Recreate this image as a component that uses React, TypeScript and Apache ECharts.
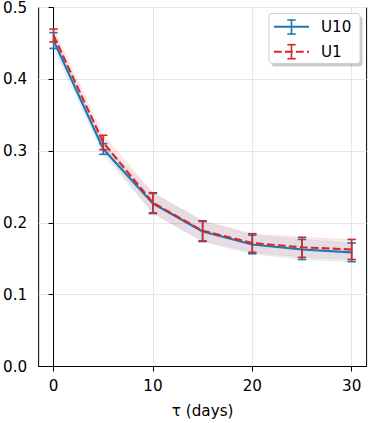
import React, { useEffect, useRef } from "react";
import * as echarts from "echarts";

const tau = [0, 5, 10, 15, 20, 25, 30];
const u10Mean = [0.454, 0.303, 0.227, 0.188, 0.17, 0.163, 0.159];
const u10Err = [0.011, 0.0075, 0.014, 0.014, 0.013, 0.014, 0.013];
const u1Mean = [0.461, 0.312, 0.228, 0.189, 0.172, 0.166, 0.163];
const u1Err = [0.009, 0.01, 0.014, 0.014, 0.013, 0.014, 0.014];
const xTicks = [0, 10, 20, 30];
const seriesNames = ["U10", "U1"];
const xName = "τ (days)";

const BLUE = "#1f77b4";
const RED = "#d62728";
const FONT = "DejaVu Sans";
const FS = 15.2;

export default function App() {
  const ref = useRef<HTMLDivElement>(null);
  useEffect(() => {
    if (!ref.current) return;
    const chart = echarts.init(ref.current, undefined, { renderer: "svg" });

    const errRender = (color: string) => (params: any, api: any) => {
      const x = api.value(0);
      const y = api.value(1);
      const e = api.value(2);
      const top = api.coord([x, y + e]);
      const bot = api.coord([x, y - e]);
      const cw = 4.2;
      const style = { stroke: color, lineWidth: 1.6 };
      return {
        type: "group",
        children: [
          { type: "line", shape: { x1: top[0], y1: top[1], x2: bot[0], y2: bot[1] }, style },
          { type: "line", shape: { x1: top[0] - cw, y1: top[1], x2: top[0] + cw, y2: top[1] }, style },
          { type: "line", shape: { x1: bot[0] - cw, y1: bot[1], x2: bot[0] + cw, y2: bot[1] }, style },
        ],
      };
    };

    const bandRender = (mean: number[], err: number[], fill: string) => (params: any, api: any) => {
      if (params.dataIndex !== 0) return null;
      const upper = tau.map((x, i) => api.coord([x, mean[i] + err[i]]));
      const lower = tau.map((x, i) => api.coord([x, mean[i] - err[i]])).reverse();
      return {
        type: "polygon",
        shape: { points: upper.concat(lower) },
        style: { fill, stroke: fill, lineWidth: 0.8 },
      };
    };

    const errData = (mean: number[], err: number[]) => tau.map((x, i) => [x, mean[i], err[i]]);

    const tickLabel = { fontSize: FS, color: "#000", fontFamily: FONT };

    chart.setOption({
      animation: false,
      grid: { left: 37.3, right: 1.4, top: 5.7, bottom: 55.7, show: true, borderColor: "#000", borderWidth: 1, backgroundColor: "transparent" },
      xAxis: {
        type: "value",
        min: -1.5,
        max: 31.5,
        name: xName,
        nameLocation: "middle",
        nameGap: 36.5,
        nameTextStyle: tickLabel,
        axisLine: { onZero: false, lineStyle: { color: "#000", width: 1 } },
        axisTick: { customValues: xTicks, length: 5, lineStyle: { color: "#000", width: 1 } },
        axisLabel: { customValues: xTicks, margin: 12, ...tickLabel },
        splitLine: { show: true, lineStyle: { color: "#e6e6e6", width: 1 } },
      },
      yAxis: {
        type: "value",
        min: 0,
        max: 0.5,
        interval: 0.1,
        axisLine: { show: true, lineStyle: { color: "#000", width: 1 } },
        axisTick: { show: true, length: 5, lineStyle: { color: "#000", width: 1 } },
        axisLabel: { margin: 11.5, formatter: (v: number) => v.toFixed(1), ...tickLabel },
        splitLine: { show: true, lineStyle: { color: "#e6e6e6", width: 1 } },
      },
      series: [
        { type: "custom", name: seriesNames[0] + " band", data: [[0]], renderItem: bandRender(u10Mean, u10Err, "rgba(31,119,180,0.10)"), z: 1, silent: true },
        { type: "custom", name: seriesNames[1] + " band", data: [[0]], renderItem: bandRender(u1Mean, u1Err, "rgba(214,39,40,0.10)"), z: 1, silent: true },
        {
          type: "line", name: seriesNames[0], data: tau.map((x, i) => [x, u10Mean[i]]),
          showSymbol: false, lineStyle: { color: BLUE, width: 2.1 }, itemStyle: { color: BLUE }, z: 3,
        },
        { type: "custom", name: seriesNames[0] + " err", data: errData(u10Mean, u10Err), renderItem: errRender(BLUE), z: 4 },
        {
          type: "line", name: seriesNames[1], data: tau.map((x, i) => [x, u1Mean[i]]),
          showSymbol: false, lineStyle: { color: RED, width: 2.1, type: [7.7, 3.3] }, itemStyle: { color: RED }, z: 5,
        },
        { type: "custom", name: seriesNames[1] + " err", data: errData(u1Mean, u1Err), renderItem: errRender(RED), z: 6 },
      ],
      graphic: [
        { type: "rect", shape: { x: 271.5, y: 16.5, width: 91, height: 50, r: 3 }, style: { fill: "rgba(0,0,0,0.2)" }, z: 10 },
        { type: "rect", shape: { x: 269, y: 13.5, width: 91, height: 50, r: 3 }, style: { fill: "#fff", stroke: "#d0d0d0", lineWidth: 1 }, z: 11 },
        { type: "line", shape: { x1: 274, y1: 26.7, x2: 309, y2: 26.7 }, style: { stroke: BLUE, lineWidth: 2.1 }, z: 12 },
        { type: "line", shape: { x1: 291.5, y1: 20, x2: 291.5, y2: 34 }, style: { stroke: BLUE, lineWidth: 1.6 }, z: 12 },
        { type: "line", shape: { x1: 287.3, y1: 20, x2: 295.7, y2: 20 }, style: { stroke: BLUE, lineWidth: 1.6 }, z: 12 },
        { type: "line", shape: { x1: 287.3, y1: 34, x2: 295.7, y2: 34 }, style: { stroke: BLUE, lineWidth: 1.6 }, z: 12 },
        { type: "text", x: 321, y: 26.7, style: { text: seriesNames[0], fontSize: FS, fontFamily: FONT, fill: "#000", verticalAlign: "middle" }, z: 12 },
        { type: "line", shape: { x1: 274, y1: 51.7, x2: 309, y2: 51.7 }, style: { stroke: RED, lineWidth: 2.1, lineDash: [7.7, 3.3] }, z: 12 },
        { type: "line", shape: { x1: 291.5, y1: 44.7, x2: 291.5, y2: 58.7 }, style: { stroke: RED, lineWidth: 1.6 }, z: 12 },
        { type: "line", shape: { x1: 287.3, y1: 44.7, x2: 295.7, y2: 44.7 }, style: { stroke: RED, lineWidth: 1.6 }, z: 12 },
        { type: "line", shape: { x1: 287.3, y1: 58.7, x2: 295.7, y2: 58.7 }, style: { stroke: RED, lineWidth: 1.6 }, z: 12 },
        { type: "text", x: 321, y: 51.7, style: { text: seriesNames[1], fontSize: FS, fontFamily: FONT, fill: "#000", verticalAlign: "middle" }, z: 12 },
      ],
    });
    return () => chart.dispose();
  }, []);
  return <div ref={ref} style={{ position: "absolute", left: 0, top: 0, width: 368, height: 423, background: "#fff" }} />;
}
